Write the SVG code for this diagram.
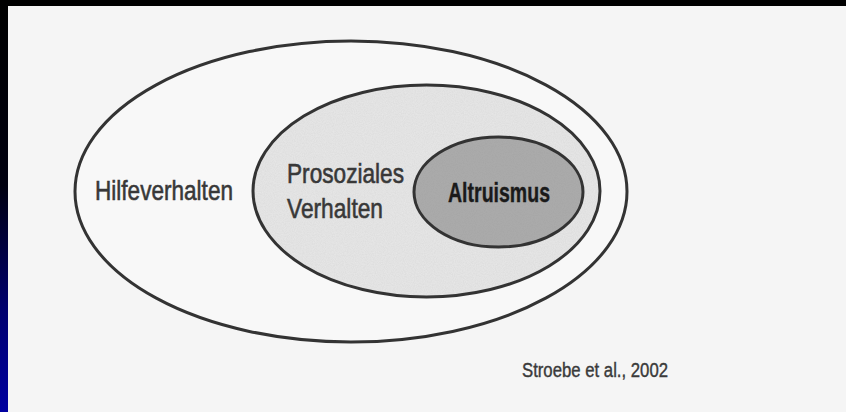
<svg xmlns="http://www.w3.org/2000/svg" width="846" height="412" viewBox="0 0 846 412">
  <defs>
    <linearGradient id="side" x1="0" y1="0" x2="0" y2="1">
      <stop offset="0" stop-color="#000000"/>
      <stop offset="0.45" stop-color="#000010"/>
      <stop offset="0.75" stop-color="#00006e"/>
      <stop offset="1" stop-color="#0000a0"/>
    </linearGradient>
    <filter id="grain" x="0" y="0" width="100%" height="100%">
      <feTurbulence type="fractalNoise" baseFrequency="0.9" numOctaves="2" seed="3" result="n"/>
      <feColorMatrix in="n" type="matrix" values="0 0 0 0 0.5  0 0 0 0 0.5  0 0 0 0 0.5  0 0 0 0.3 0" result="g"/>
      <feComposite in="g" in2="SourceGraphic" operator="in" result="gm"/>
      <feMerge><feMergeNode in="SourceGraphic"/><feMergeNode in="gm"/></feMerge>
    </filter>
    <style>
      .ring { fill: none; stroke: #333333; stroke-width: 3; }
      .lbl { font-family: "Liberation Sans", Arial, sans-serif; font-size: 28px; fill: #383838; stroke: #383838; stroke-width: 0.6; }
      .bold { font-weight: bold; fill: #1a1a1a; stroke: #1a1a1a; stroke-width: 0.4; }
      .cite { font-family: "Liberation Sans", Arial, sans-serif; font-size: 20px; fill: #3a3a3a; stroke: #3a3a3a; stroke-width: 0.4; }
    </style>
  </defs>

  <rect x="0" y="0" width="846" height="412" fill="#f5f5f5"/>
  <rect x="0" y="0" width="846" height="6" fill="#000000"/>
  <rect x="0" y="0" width="8" height="412" fill="url(#side)"/>

  <g id="hilfeverhalten">
    <ellipse cx="351" cy="191.5" rx="276" ry="150.5" fill="#f8f8f8"/>
    <ellipse class="ring" cx="351" cy="191.5" rx="276" ry="150.5"/>
    <text class="lbl" x="95" y="200" textLength="138" lengthAdjust="spacingAndGlyphs">Hilfeverhalten</text>
  </g>

  <g id="prosoziales-verhalten">
    <ellipse cx="426.5" cy="191" rx="173.5" ry="106" fill="#e8e8e8" filter="url(#grain)"/>
    <ellipse class="ring" cx="426.5" cy="191" rx="173.5" ry="106"/>
    <text class="lbl" x="287" y="183" textLength="117" lengthAdjust="spacingAndGlyphs">Prosoziales</text>
    <text class="lbl" x="287" y="218" textLength="96" lengthAdjust="spacingAndGlyphs">Verhalten</text>
  </g>

  <g id="altruismus">
    <ellipse cx="498.5" cy="192" rx="84.5" ry="55" fill="#a6a6a6" filter="url(#grain)"/>
    <ellipse class="ring" cx="498.5" cy="192" rx="84.5" ry="55"/>
    <text class="lbl bold" x="448" y="202" textLength="102" lengthAdjust="spacingAndGlyphs">Altruismus</text>
  </g>

  <g id="source">
    <text class="cite" x="522" y="377" textLength="146" lengthAdjust="spacingAndGlyphs">Stroebe et al., 2002</text>
  </g>
</svg>
